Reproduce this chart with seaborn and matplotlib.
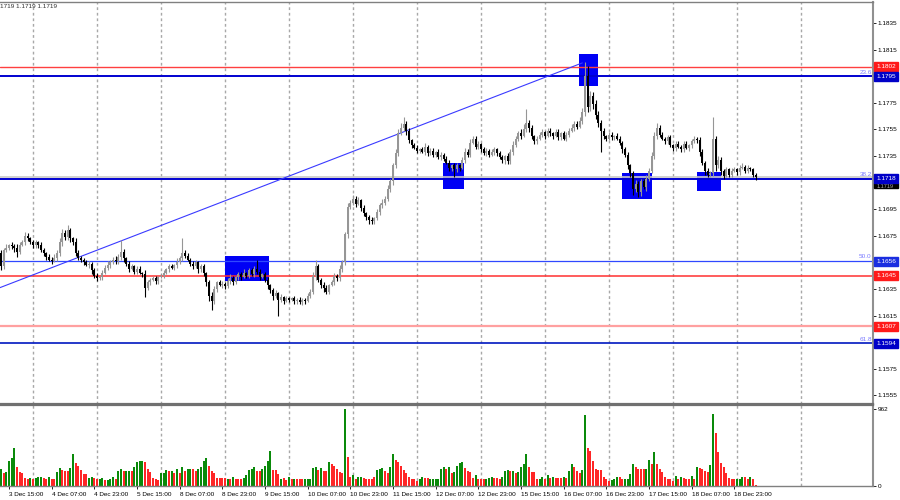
import numpy as np
import pandas as pd
import matplotlib
matplotlib.use("Agg")
import matplotlib.pyplot as plt
import matplotlib.transforms as mtransforms
from matplotlib.patches import Rectangle
import seaborn as sns

# hourly closes, in pips above 1.1600
close_pips = [
    52, 64, 66, 68, 67, 66, 63, 68, 70, 75, 73, 70, 68, 70, 68, 64,
    62, 59, 57, 56, 58, 62, 70, 77, 74, 79, 73, 70, 62, 58, 57, 55,
    53, 54, 49, 45, 43, 44, 47, 51, 53, 55, 57, 56, 59, 63, 58, 54,
    50, 52, 48, 50, 47, 46, 36, 40, 42, 43, 41, 44, 45, 47, 50, 52,
    51, 53, 55, 58, 62, 60, 57, 54, 52, 55, 50, 52, 47, 40, 30, 26,
    35, 40, 38, 39, 37, 41, 43, 40, 44, 46, 44, 47, 45, 49, 46, 50,
    48, 44, 46, 42, 38, 34, 30, 32, 27, 29, 26, 28, 27, 28, 26, 27,
    25, 27, 26, 30, 33, 45, 52, 42, 38, 36, 33, 38, 40, 45, 43, 50,
    55, 76, 97, 100, 103, 99, 102, 96, 92, 89, 87, 86, 88, 93, 98, 100,
    103, 110, 116, 128, 137, 152, 156, 159, 154, 147, 143, 141, 139, 140, 138, 142,
    137, 139, 136, 138, 134, 136, 133, 130, 126, 128, 125, 128, 126, 132, 138, 136,
    145, 148, 142, 144, 140, 137, 139, 136, 138, 140, 137, 134, 132, 135, 131, 138,
    143, 148, 152, 150, 155, 160, 156, 150, 146, 148, 151, 153, 150, 154, 152, 150,
    153, 149, 152, 148, 151, 154, 156, 159, 157, 161, 168, 195, 172, 180, 174, 166,
    160, 154, 150, 148, 151, 149, 150, 148, 145, 140, 136, 128, 122, 110, 114, 108,
    116, 112, 118, 124, 135, 150, 156, 151, 148, 146, 149, 143, 141, 144, 142, 140,
    144, 141, 143, 146, 148, 147, 138, 130, 124, 121, 122, 148, 128, 132, 124, 120,
    125, 121, 124, 125, 123, 126, 127, 124, 126, 125, 121, 119,
]
upper_wick = [
    2, 2, 3, 1, 2, 2, 3, 2, 2, 3, 2, 1, 2, 2, 1, 2,
    2, 1, 2, 2, 3, 2, 3, 3, 2, 4, 2, 1, 3, 2, 2, 1,
    2, 2, 1, 2, 2, 1, 2, 2, 3, 2, 2, 3, 2, 9, 2, 1,
    2, 2, 1, 2, 2, 1, 3, 2, 1, 2, 2, 1, 2, 2, 1, 2,
    2, 1, 3, 2, 11, 2, 2, 1, 2, 2, 1, 2, 2, 1, 2, 3,
    2, 1, 2, 2, 1, 2, 3, 2, 1, 2, 2, 3, 1, 2, 2, 2,
    7, 2, 1, 2, 2, 1, 2, 2, 1, 2, 1, 2, 1, 1, 2, 1,
    2, 1, 1, 2, 2, 3, 5, 2, 1, 2, 2, 1, 2, 2, 1, 3,
    2, 2, 3, 2, 3, 2, 2, 1, 2, 1, 2, 2, 1, 2, 2, 3,
    2, 3, 2, 2, 3, 3, 4, 5, 2, 2, 1, 2, 2, 1, 2, 3,
    1, 2, 2, 1, 2, 2, 1, 2, 2, 1, 2, 2, 1, 2, 3, 2,
    3, 2, 2, 2, 1, 2, 2, 1, 2, 2, 1, 2, 2, 1, 2, 2,
    3, 2, 2, 3, 4, 10, 2, 2, 1, 2, 2, 2, 1, 2, 2, 1,
    2, 2, 1, 2, 2, 2, 3, 2, 2, 3, 3, 11, 8, 4, 3, 3,
    3, 2, 2, 1, 2, 2, 1, 2, 2, 1, 2, 2, 1, 2, 3, 2,
    2, 2, 3, 2, 3, 3, 4, 2, 2, 1, 2, 2, 1, 2, 2, 1,
    2, 2, 1, 2, 2, 1, 2, 2, 1, 2, 2, 16, 2, 3, 2, 1,
    2, 1, 2, 2, 1, 2, 3, 1, 2, 1, 1, 1,
]
lower_wick = [
    3, 2, 1, 2, 2, 3, 4, 2, 1, 2, 2, 1, 2, 2, 2, 1,
    2, 2, 1, 2, 1, 2, 2, 3, 2, 2, 3, 2, 2, 1, 2, 2,
    1, 2, 3, 2, 2, 1, 2, 1, 2, 2, 1, 2, 2, 2, 3, 2,
    2, 1, 2, 2, 1, 2, 7, 2, 2, 1, 2, 2, 1, 2, 1, 2,
    1, 2, 2, 1, 2, 2, 1, 2, 2, 1, 3, 2, 2, 3, 4, 7,
    2, 2, 1, 2, 2, 1, 2, 2, 1, 2, 2, 1, 2, 2, 1, 2,
    2, 2, 1, 2, 3, 2, 3, 2, 12, 2, 2, 1, 2, 1, 2, 2,
    1, 2, 2, 1, 2, 2, 3, 2, 2, 3, 2, 2, 1, 2, 2, 2,
    2, 2, 3, 2, 2, 2, 1, 2, 2, 2, 3, 2, 2, 1, 2, 2,
    2, 2, 2, 3, 2, 2, 1, 2, 3, 2, 2, 1, 2, 2, 1, 2,
    2, 1, 2, 2, 1, 2, 2, 1, 2, 2, 6, 2, 2, 1, 2, 2,
    2, 1, 2, 2, 2, 1, 2, 2, 1, 2, 2, 1, 2, 3, 2, 2,
    2, 1, 2, 2, 1, 2, 3, 2, 2, 2, 1, 2, 2, 1, 2, 2,
    1, 2, 2, 1, 2, 2, 1, 2, 2, 1, 2, 3, 4, 3, 4, 3,
    3, 16, 2, 2, 1, 2, 2, 1, 2, 3, 2, 3, 3, 4, 2, 4,
    3, 2, 3, 2, 2, 2, 2, 2, 1, 2, 2, 1, 2, 2, 1, 2,
    2, 1, 2, 2, 1, 2, 3, 2, 3, 2, 2, 2, 4, 2, 3, 2,
    1, 2, 2, 1, 2, 2, 1, 2, 2, 1, 2, 2,
]
volume = [
    208, 158, 175, 317, 350, 471, 242, 175, 167, 100, 92, 100, 83, 100, 108, 113,
    100, 88, 108, 92, 92, 175, 225, 200, 192, 183, 221, 400, 292, 250, 200, 150,
    150, 100, 108, 100, 83, 92, 100, 75, 75, 92, 108, 92, 183, 208, 183, 192,
    192, 183, 233, 300, 317, 317, 300, 208, 175, 100, 92, 75, 158, 158, 200, 183,
    192, 158, 208, 167, 242, 192, 217, 217, 217, 192, 217, 242, 308, 350, 250, 192,
    158, 100, 100, 100, 100, 92, 83, 108, 92, 92, 83, 100, 133, 200, 217, 233,
    192, 192, 217, 250, 308, 433, 200, 200, 150, 92, 100, 75, 117, 83, 92, 92,
    92, 83, 92, 92, 92, 225, 233, 200, 225, 192, 192, 300, 275, 250, 208, 175,
    158, 962, 367, 117, 133, 92, 108, 117, 100, 92, 92, 83, 117, 200, 217, 225,
    192, 167, 233, 400, 325, 300, 250, 200, 167, 117, 92, 83, 67, 83, 108, 100,
    100, 92, 92, 92, 92, 208, 233, 208, 233, 167, 175, 250, 292, 300, 225, 192,
    175, 100, 133, 83, 83, 83, 92, 100, 117, 100, 100, 83, 117, 192, 200, 192,
    192, 158, 175, 242, 275, 400, 242, 175, 175, 83, 92, 108, 92, 133, 100, 108,
    100, 100, 100, 108, 100, 192, 275, 242, 192, 167, 200, 888, 475, 442, 308, 208,
    200, 200, 117, 83, 58, 75, 83, 108, 108, 92, 92, 92, 150, 275, 233, 217,
    217, 217, 217, 325, 275, 425, 275, 208, 175, 108, 92, 92, 67, 125, 92, 117,
    100, 92, 83, 125, 92, 233, 225, 217, 192, 175, 267, 896, 659, 425, 292, 242,
    167, 100, 92, 83, 92, 83, 108, 108, 92, 108, 92, 8,
]
vol_dir = (
    "GRGGGGRRRRRGRGGG" "RRGRRGGRRRGGRRRR" "RGGRRGGRGGGRGGRG" "GRGGGGRRRRRRGGGR"
    "GRGRGRGGRRGGGGRR" "RRRRRGRGRRRGGGGG" "RRGGGGRRRGRRGRGR" "RRGGGGGRGRRGRRRR"
    "RGRRGRGGRRRRRGGG" "RRGGRRRRRRRRRGGR" "RGGGGGGRGRGGGGRR" "RRGRRRGGGRRRGGGR"
    "GRGGGGRRRRGGRGRG" "RRRGRGGRRRGGRRRR" "RRRRRGGGRRGGGGRR" "RRGGRGRRRRRRRGRG"
    "RRRGRGRRRRGGRRRR" "RRRRGGGRRGRR"
)

date_labels = ["3 Dec 15:00", "4 Dec 07:00", "4 Dec 23:00", "5 Dec 15:00",
               "8 Dec 07:00", "8 Dec 23:00", "9 Dec 15:00", "10 Dec 07:00",
               "10 Dec 23:00", "11 Dec 15:00", "12 Dec 07:00", "12 Dec 23:00",
               "15 Dec 15:00", "16 Dec 07:00", "16 Dec 23:00", "17 Dec 15:00",
               "18 Dec 07:00", "18 Dec 23:00"]

# price scale labels (the ones not hidden behind level boxes)
price_ticks = [1.1555, 1.1575, 1.1615, 1.1635, 1.1675, 1.1695,
               1.1735, 1.1755, 1.1775, 1.1815, 1.1835]

# horizontal levels drawn on the chart
levels = [1.1802, 1.1795, 1.1718, 1.1656, 1.1645, 1.1607, 1.1594]
level_colors = ["#ff4040", "#0000d0", "#0000d0", "#3048ff", "#ff3030", "#ffa0a0", "#0018c0"]
level_widths = [1.0, 1.4, 1.4, 0.9, 1.1, 1.6, 1.2]
label_colors = ["#ff1a1a", "#0000c8", "#0000c8", "#1a2ee0", "#ff1a1a", "#ff1a1a", "#0000c8"]
fib_names = ["23.6", "38.2", "50.0", "61.8"]
fib_levels = [1.1795, 1.1718, 1.1656, 1.1594]

# blue zones (bar index from/to, price bottom/top)
zone_left = [84, 165.7, 216.7, 232.9, 261]
zone_right = [100.5, 173.6, 223.9, 244.1, 270]
zone_bottom = [1.1641, 1.1710, 1.1788, 1.1703, 1.1709]
zone_top = [1.1660, 1.1730, 1.1812, 1.1722, 1.1723]

trend_x = [-0.4, 218]
trend_y = [1.1636, 1.1805]

bid = 1.1719

sns.set_theme(style="white")
plt.rcParams["font.family"] = ["Liberation Sans", "DejaVu Sans"]

n = len(close_pips)
idx = np.arange(n)
close = 1.16 + np.array(close_pips) / 10000
open_ = np.r_[1.1662, close[:-1]]
high = np.maximum(open_, close) + np.array(upper_wick) / 10000
low = np.minimum(open_, close) - np.array(lower_wick) / 10000
bull = close >= open_

fig = plt.figure(figsize=(9, 5), dpi=100)
fig.patch.set_facecolor("white")
ax = fig.add_axes([0, 0.192, 0.97, 0.804])
axv = fig.add_axes([0, 0.028, 0.97, 0.162])

grid_bars = np.arange(12, 301, 24)
for a in (ax, axv):
    for g in grid_bars:
        a.axvline(g, color="#a8a8a8", lw=1, ls=(0, (2, 2)), zorder=0)

# zones, levels, trendline
for l, r, b, t in zip(zone_left, zone_right, zone_bottom, zone_top):
    ax.add_patch(Rectangle((l, b), r - l, t - b, color="#0000f5", lw=0, zorder=1))
ax.axhline(bid + 0.00003, color="#c8c8c8", lw=1.2, zorder=1.5)
for lv, c, w in zip(levels, level_colors, level_widths):
    ax.axhline(lv, color=c, lw=w, zorder=2)
ax.plot(trend_x, trend_y, color="#3a3aff", lw=0.8, zorder=2)

# candles
cc = np.where(bull, "#969696", "#000000")
ax.vlines(idx, low, high, colors=cc, lw=0.8, zorder=3)
body = np.maximum(np.abs(close - open_), 0.00005)
ax.bar(idx, body, bottom=np.minimum(open_, close), width=0.72, color=cc, lw=0, zorder=4)

ax.set_xlim(-0.375, 327)
ax.set_ylim(1.15485, 1.18508)
ax.set_xticks([])
ax.yaxis.tick_right()
ax.set_yticks(price_ticks)
ax.set_yticklabels([f"{v:.4f}" for v in price_ticks])
ax.tick_params(axis="y", labelsize=4.6, length=2, width=0.6, pad=1.5,
               colors="black", right=True, direction="out")

trans = mtransforms.blended_transform_factory(ax.transAxes, ax.transData)
h = 9 / 13300
# bid label sits just under the 1.1718 box
ax.add_patch(Rectangle((1.0012, bid - 0.00012 - h), 0.0275, h * 0.55, transform=trans,
                       color="black", clip_on=False, zorder=6))
ax.text(1.0045, bid - 0.00072, f"{bid:.4f}", transform=trans, color="#b0b0b0",
        fontsize=4.0, va="center", ha="left", zorder=6.5, clip_on=False)
for lv, c in zip(levels, label_colors):
    ax.add_patch(Rectangle((1.0012, lv - h / 2), 0.0275, h, transform=trans,
                           color=c, clip_on=False, zorder=7))
    ax.text(1.0045, lv, f"{lv:.4f}", transform=trans, color="white", fontsize=4.6,
            va="center", ha="left", zorder=8, clip_on=False)
for name, lv in zip(fib_names, fib_levels):
    ax.text(0.9985, lv + 0.00012, name, transform=trans, color="#7a7aff", fontsize=4.6,
            va="bottom", ha="right", zorder=8)

ax.spines["left"].set_visible(False)
ax.spines["top"].set_color("#808080")
ax.spines["top"].set_linewidth(1)
ax.spines["right"].set_color("#909090")
ax.spines["right"].set_linewidth(1.5)
ax.spines["bottom"].set_color("#707070")
ax.spines["bottom"].set_linewidth(1.6)

fig.text(0.0, 1 - 7 / 500, "1719 1.1719 1.1719", fontsize=4.6, color="#303030",
         va="center", ha="left")

# volumes
vdf = pd.DataFrame({"bar": idx, "volume": volume, "dir": list(vol_dir)})
sns.barplot(data=vdf, x="bar", y="volume", hue="dir",
            palette={"G": "#0a8a0a", "R": "#ff2626"}, dodge=False,
            native_scale=True, width=0.75, saturation=1, legend=False,
            linewidth=0, ax=axv)
axv.set_xlabel("")
axv.set_ylabel("")
axv.set_xlim(-0.375, 327)
axv.set_ylim(0, 1012)
axv.yaxis.tick_right()
axv.set_yticks([0, 962])
axv.set_yticklabels(["0", "962"])
axv.tick_params(axis="y", labelsize=4.6, length=2, width=0.6, pad=1.5,
                colors="black", right=True)
label_bars = 3 + 16 * np.arange(len(date_labels))
axv.set_xticks(label_bars)
axv.set_xticklabels(date_labels, ha="left")
axv.tick_params(axis="x", labelsize=4.6, length=2.5, width=0.6, pad=1.5,
                colors="black", bottom=True, direction="out")
axv.spines["left"].set_visible(False)
axv.spines["top"].set_color("#707070")
axv.spines["top"].set_linewidth(1.6)
axv.spines["right"].set_color("#909090")
axv.spines["right"].set_linewidth(1.5)
axv.spines["bottom"].set_color("#808080")
axv.spines["bottom"].set_linewidth(1)

fig.savefig("out.png", dpi=100, facecolor="white")
